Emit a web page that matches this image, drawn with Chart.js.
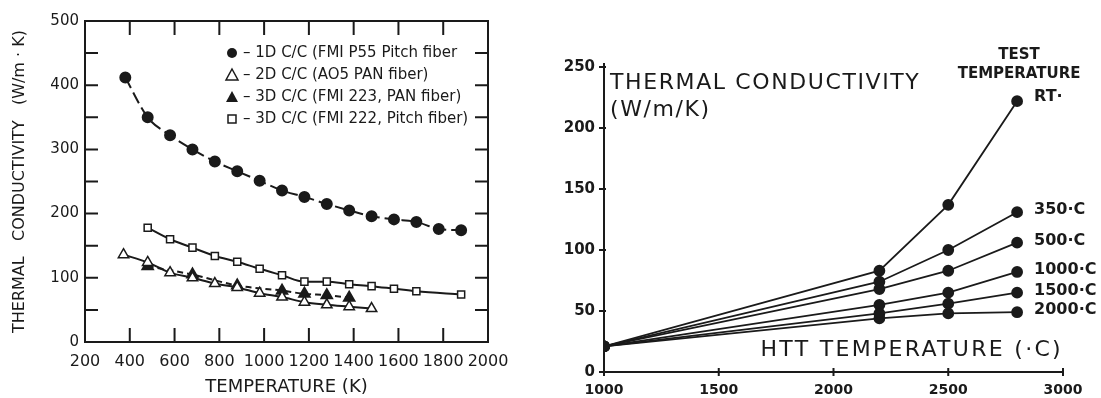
<!DOCTYPE html>
<html>
<head>
<meta charset="utf-8">
<script src="https://cdn.jsdelivr.net/npm/chart.js@4.4.1/dist/chart.umd.min.js"></script>
<style>
  html, body { margin: 0; padding: 0; background: #fff; }
  #wrap { position: relative; width: 1101px; height: 398px; }
  #left { position: absolute; left: 0; top: 0; width: 535px; height: 398px; }
  #right { position: absolute; left: 535px; top: 0; width: 566px; height: 398px; }
</style>
</head>
<body>
<div id="wrap">
  <div id="left"><canvas id="c1"></canvas></div>
  <div id="right"><canvas id="c2"></canvas></div>
</div>
<script>
// ---- left panel: C/C composites, conductivity vs temperature (K)
const temp1D = [380, 480, 580, 680, 780, 880, 980, 1080, 1180, 1280, 1380, 1480, 1580, 1680, 1780, 1880];
const k1D = [412, 350, 322, 300, 281, 266, 251, 236, 226, 215, 205, 196, 191, 187, 176, 174];

const temp2D = [372, 480, 580, 680, 780, 880, 980, 1080, 1180, 1280, 1380, 1480];
const k2D = [136, 124, 108, 100, 91, 85, 76, 70, 62, 58, 55, 52];

const temp3DPan = [480, 680, 880, 1080, 1180, 1280, 1380];
const k3DPan = [118, 105, 88, 80, 75, 73, 69];

const temp3DPitch = [480, 580, 680, 780, 880, 980, 1080, 1180, 1280, 1380, 1480, 1580, 1680, 1880];
const k3DPitch = [178, 160, 147, 134, 125, 114, 104, 94, 94, 90, 87, 83, 79, 74];

const legendLabels = [
  '– 1D C/C (FMI P55 Pitch fiber',
  '– 2D C/C (AO5 PAN fiber)',
  '– 3D C/C (FMI 223, PAN fiber)',
  '– 3D C/C (FMI 222, Pitch fiber)'
];

// ---- right panel: conductivity vs HTT temperature, per test temperature
const httTemp = [1000, 2200, 2500, 2800];
const kRT = [21, 83, 137, 222];
const k350 = [21, 74, 100, 131];
const k500 = [21, 68, 83, 106];
const k1000 = [21, 55, 65, 82];
const k1500 = [21, 48, 56, 65];
const k2000 = [21, 44, 48, 49];
const testLabels = ['RT·', '350·C', '500·C', '1000·C', '1500·C', '2000·C'];

const ink = '#1a1a1a';
const pts = (xs, ys) => xs.map((x, i) => ({ x: x, y: ys[i] }));
const plain = v => String(v);

function drawMarker(ctx, kind, x, y) {
  ctx.beginPath();
  if (kind === 'circle') {
    ctx.arc(x, y, 5, 0, Math.PI * 2);
    ctx.fillStyle = ink; ctx.fill();
  } else if (kind === 'tri' || kind === 'triOpen') {
    ctx.moveTo(x, y - 6); ctx.lineTo(x + 6, y + 5); ctx.lineTo(x - 6, y + 5); ctx.closePath();
    if (kind === 'tri') { ctx.fillStyle = ink; ctx.fill(); }
    else { ctx.lineWidth = 1.5; ctx.stroke(); }
  } else {
    ctx.rect(x - 4, y - 4, 8, 8);
    ctx.lineWidth = 1.5; ctx.stroke();
  }
}

const frameLeft = {
  id: 'frameLeft',
  afterDatasetsDraw(chart) {
    const { ctx, chartArea: a, scales: { x, y } } = chart;
    ctx.save();
    ctx.strokeStyle = ink;
    ctx.lineWidth = 2;
    ctx.strokeRect(a.left, a.top, a.right - a.left, a.bottom - a.top);
    ctx.beginPath();
    y.ticks.forEach(t => {
      const py = y.getPixelForValue(t.value);
      ctx.moveTo(a.left, py); ctx.lineTo(a.left + 13, py);
      ctx.moveTo(a.right - 13, py); ctx.lineTo(a.right, py);
    });
    x.ticks.forEach(t => {
      const px = x.getPixelForValue(t.value);
      ctx.moveTo(px, a.bottom); ctx.lineTo(px, a.bottom - 14);
      ctx.moveTo(px, a.top); ctx.lineTo(px, a.top + 14);
    });
    ctx.stroke();

    // legend block, top right of the plot
    const kinds = ['circle', 'triOpen', 'tri', 'square'];
    ctx.font = '15px "DejaVu Sans", sans-serif';
    ctx.textBaseline = 'middle';
    legendLabels.forEach((txt, i) => {
      const ly = a.top + 32 + i * 22;
      ctx.strokeStyle = ink;
      drawMarker(ctx, kinds[i], a.left + 147, ly);
      ctx.fillStyle = ink;
      ctx.fillText(txt, a.left + 158, ly);
    });
    ctx.restore();
  }
};

const fam = '"DejaVu Sans", sans-serif';

new Chart(document.getElementById('c1'), {
  type: 'line',
  data: {
    datasets: [
      { label: '1D', data: pts(temp1D, k1D), borderDash: [12, 5],
        pointStyle: 'circle', pointRadius: 5, pointBackgroundColor: ink },
      { label: '2D', data: pts(temp2D, k2D),
        pointStyle: 'triangle', pointRadius: 6, pointBackgroundColor: '#fff', pointBorderWidth: 1.5 },
      { label: '3D PAN', data: pts(temp3DPan, k3DPan), borderDash: [6, 4],
        pointStyle: 'triangle', pointRadius: 6, pointBackgroundColor: ink },
      { label: '3D Pitch', data: pts(temp3DPitch, k3DPitch),
        pointStyle: 'rect', pointRadius: 5, pointBackgroundColor: '#fff', pointBorderWidth: 1.5 }
    ].map(d => Object.assign({ borderColor: ink, pointBorderColor: ink, borderWidth: 2,
      cubicInterpolationMode: 'monotone', fill: false }, d))
  },
  options: {
    animation: false,
    responsive: true,
    maintainAspectRatio: false,
    layout: { padding: { top: 21, right: 47, left: 0, bottom: 0 } },
    plugins: { legend: { display: false }, tooltip: { enabled: false } },
    scales: {
      x: {
        type: 'linear', min: 200, max: 2000,
        ticks: { stepSize: 200, autoSkip: false, maxRotation: 0, padding: 10, color: ink,
          font: { family: fam, size: 16 }, callback: plain },
        grid: { display: false, drawTicks: false }, border: { display: false },
        title: { display: true, text: 'TEMPERATURE (K)', color: ink,
          font: { family: fam, size: 18 }, padding: { top: 0, bottom: 0 } },
        afterFit(s) { s.height = 56; }
      },
      y: {
        min: 0, max: 500,
        ticks: { stepSize: 50, padding: 6, color: ink, font: { family: fam, size: 15 },
          callback: v => (v % 100 === 0 ? String(v) : '') },
        grid: { display: false, drawTicks: false }, border: { display: false },
        title: { display: true, text: 'THERMAL   CONDUCTIVITY   (W/m · K)', color: ink,
          font: { family: fam, size: 16 }, padding: { top: 10, bottom: 0 } },
        afterFit(s) { s.width = 85; }
      }
    }
  },
  plugins: [frameLeft]
});

// ---- right panel
const axesRight = {
  id: 'axesRight',
  afterDatasetsDraw(chart) {
    const { ctx, chartArea: a, scales: { x, y } } = chart;
    ctx.save();
    ctx.strokeStyle = ink;
    ctx.lineWidth = 2;
    ctx.beginPath();
    ctx.moveTo(a.left, a.bottom); ctx.lineTo(a.left, a.top - 4);
    ctx.moveTo(a.left, a.bottom); ctx.lineTo(a.right, a.bottom);
    y.ticks.forEach(t => {
      const py = y.getPixelForValue(t.value);
      ctx.moveTo(a.left - 5, py); ctx.lineTo(a.left + 2, py);
    });
    x.ticks.forEach(t => {
      const px = x.getPixelForValue(t.value);
      ctx.moveTo(px, a.bottom - 4); ctx.lineTo(px, a.bottom + 4);
    });
    ctx.stroke();

    ctx.fillStyle = ink;
    ctx.textBaseline = 'middle';
    ctx.font = '22px ' + fam;
    ctx.letterSpacing = '1.6px';
    ctx.textAlign = 'left';
    ctx.fillText('THERMAL CONDUCTIVITY', a.left + 6, a.top + 16);
    ctx.fillText('(W/m/K)', a.left + 6, a.top + 43);
    ctx.letterSpacing = '2.3px';
    ctx.textAlign = 'right';
    ctx.fillText('HTT TEMPERATURE (·C)', a.right, a.bottom - 22);

    // series labels at the last point of each line
    ctx.font = 'bold 16px ' + fam;
    ctx.letterSpacing = '0px';
    ctx.textAlign = 'left';
    chart.data.datasets.forEach((d, i) => {
      const last = chart.getDatasetMeta(i).data[d.data.length - 1];
      ctx.fillText(testLabels[i], last.x + 17, last.y - (i === 0 ? 4 : 2));
    });
    const cx = x.getPixelForValue(httTemp[httTemp.length - 1]) + 2;
    ctx.textAlign = 'center';
    ctx.font = 'bold 15px ' + fam;
    ctx.fillText('TEST', cx, a.top - 12);
    ctx.fillText('TEMPERATURE', cx, a.top + 7);
    ctx.restore();
  }
};

const tickFontR = { family: fam, size: 15, weight: 'bold' };

new Chart(document.getElementById('c2'), {
  type: 'line',
  data: {
    datasets: [kRT, k350, k500, k1000, k1500, k2000].map((ys, i) => ({
      label: testLabels[i],
      data: pts(httTemp, ys),
      borderColor: ink, borderWidth: 1.8,
      pointRadius: 5, pointBackgroundColor: ink, pointBorderColor: ink,
      tension: 0, fill: false
    }))
  },
  options: {
    animation: false,
    responsive: true,
    maintainAspectRatio: false,
    layout: { padding: { top: 67, right: 38, left: 0, bottom: 0 } },
    plugins: { legend: { display: false }, tooltip: { enabled: false } },
    scales: {
      x: {
        type: 'linear', min: 1000, max: 3000,
        ticks: { stepSize: 500, autoSkip: false, maxRotation: 0, padding: 10, color: ink,
          font: { ...tickFontR, size: 14 }, callback: plain },
        grid: { display: false, drawTicks: false }, border: { display: false },
        afterFit(s) { s.height = 26; }
      },
      y: {
        min: 0, max: 250,
        ticks: { stepSize: 50, padding: 9, color: ink, font: tickFontR, callback: plain },
        grid: { display: false, drawTicks: false }, border: { display: false },
        afterFit(s) { s.width = 69; }
      }
    }
  },
  plugins: [axesRight]
});
</script>
</body>
</html>
